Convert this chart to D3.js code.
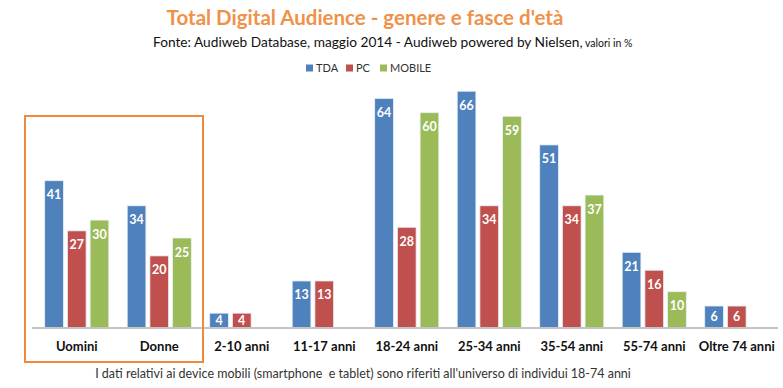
<!DOCTYPE html>
<html>
<head>
  <meta charset='utf-8'>
  <title>Total Digital Audience</title>
  <style type='text/css'>
body{
  margin:0;
  background:#fff;
}
text{
  font-family: Lato, 'Open Sans', sans-serif;
}
  </style>
</head>
<body>
<div id='chart'></div>

<script src='https://d3js.org/d3.v7.min.js'></script>
<script type='text/javascript'>

// data (valori in %)
var categories = ['Uomini','Donne','2-10 anni','11-17 anni','18-24 anni','25-34 anni','35-54 anni','55-74 anni','Oltre 74 anni'];
var seriesNames = ['TDA','PC','MOBILE'];
var tda    = [41, 34, 4, 13, 64, 66, 51, 21, 6];
var pc     = [27, 20, 4, 13, 28, 34, 34, 16, 6];
var mobile = [30, 25, null, null, 60, 59, 37, 10, null];

var colors = {TDA:'#4f81bd', PC:'#c0504d', MOBILE:'#9bbb59'};
var values = {TDA:tda, PC:pc, MOBILE:mobile};

var W = 783, H = 388;
var svg = d3.select('#chart').append('svg')
    .attr('width', W)
    .attr('height', H);

// scales
var x0 = d3.scaleBand()
    .domain(categories)
    .range([35.5, 778])
    .paddingInner(0.223)
    .paddingOuter(0.1115);

var x1 = d3.scaleBand()
    .domain(seriesNames)
    .range([0, x0.bandwidth()])
    .paddingInner(0.176);

var y = d3.scaleLinear()
    .domain([0, 70])
    .range([327.5, 327.5 - 70 * 3.58]);

// title
svg.append('text')
    .attr('x', 365)
    .attr('y', 25)
    .attr('text-anchor', 'middle')
    .style('font-size', '20.5px')
    .style('font-weight', 'bold')
    .style('fill', '#f0914a')
    .text("Total Digital Audience - genere e fasce d'età");

// subtitle
var sub = svg.append('text')
    .attr('x', 153)
    .attr('y', 47)
    .style('font-size', '13.7px')
    .style('fill', '#111');
sub.append('tspan').text('Fonte: Audiweb Database, maggio 2014 - Audiweb powered by Nielsen,');
sub.append('tspan').style('font-size', '10.5px').text(' valori in %');

// legend
var legendX = [306, 346, 380];
var legend = svg.selectAll('.legend')
    .data(seriesNames)
  .enter().append('g')
    .attr('class', 'legend')
    .attr('transform', function (d, i) { return 'translate(' + legendX[i] + ',68)'; });
legend.append('rect')
    .attr('x', 0).attr('y', -3.5)
    .attr('width', 7).attr('height', 7)
    .style('fill', function (d) { return colors[d]; });
legend.append('text')
    .attr('x', 10)
    .attr('y', 4)
    .style('font-size', '11px')
    .style('fill', '#333')
    .text(function (d) { return d; });

// bars
var groups = svg.selectAll('.grp')
    .data(categories)
  .enter().append('g')
    .attr('class', 'grp')
    .attr('transform', function (d) { return 'translate(' + x0(d) + ',0)'; });

var cells = groups.selectAll('.bar')
    .data(function (d, i) {
      return seriesNames
        .map(function (s) { return {s: s, v: values[s][i]}; })
        .filter(function (e) { return e.v != null; });
    })
  .enter().append('g')
    .attr('class', 'bar');

cells.append('rect')
    .attr('x', function (d) { return x1(d.s); })
    .attr('y', function (d) { return y(d.v); })
    .attr('width', x1.bandwidth())
    .attr('height', function (d) { return y(0) - y(d.v); })
    .style('fill', function (d) { return colors[d.s]; })
    .style('stroke', '#e8eef8')
    .style('stroke-width', 0.8);

cells.append('text')
    .attr('x', function (d) { return x1(d.s) + x1.bandwidth() / 2; })
    .attr('y', function (d) {
      var top = y(d.v), h = y(0) - top;
      return (h < 28 ? top + h / 2 : top + 14) + 4.5;
    })
    .attr('text-anchor', 'middle')
    .style('font-size', '12.5px')
    .style('font-weight', 'bold')
    .style('fill', '#fff')
    .text(function (d) { return d.v; });

// axis line
svg.append('line')
    .attr('x1', 32).attr('x2', 778)
    .attr('y1', y(0) + 0.5).attr('y2', y(0) + 0.5)
    .style('stroke', '#c4c4c4')
    .style('stroke-width', 2);

// category labels
svg.selectAll('.cat')
    .data(categories)
  .enter().append('text')
    .attr('class', 'cat')
    .attr('x', function (d) { return x0(d) + x0.bandwidth() / 2; })
    .attr('y', 351)
    .attr('text-anchor', 'middle')
    .style('font-size', '13px')
    .style('font-weight', 'bold')
    .style('fill', '#111')
    .text(function (d) { return d; });

// orange highlight box round the gender groups
svg.append('rect')
    .attr('x', 25).attr('y', 116)
    .attr('width', 178).attr('height', 246)
    .style('fill', 'none')
    .style('stroke', '#ef8a3c')
    .style('stroke-width', 2);

// footnote
svg.append('text')
    .attr('x', 363)
    .attr('y', 378)
    .attr('text-anchor', 'middle')
    .style('font-size', '12.5px')
    .style('fill', '#333')
    .style('white-space', 'pre')
    .text("I dati relativi ai device mobili (smartphone  e tablet) sono riferiti all'universo di individui 18-74 anni");

</script>
</body>
</html>
